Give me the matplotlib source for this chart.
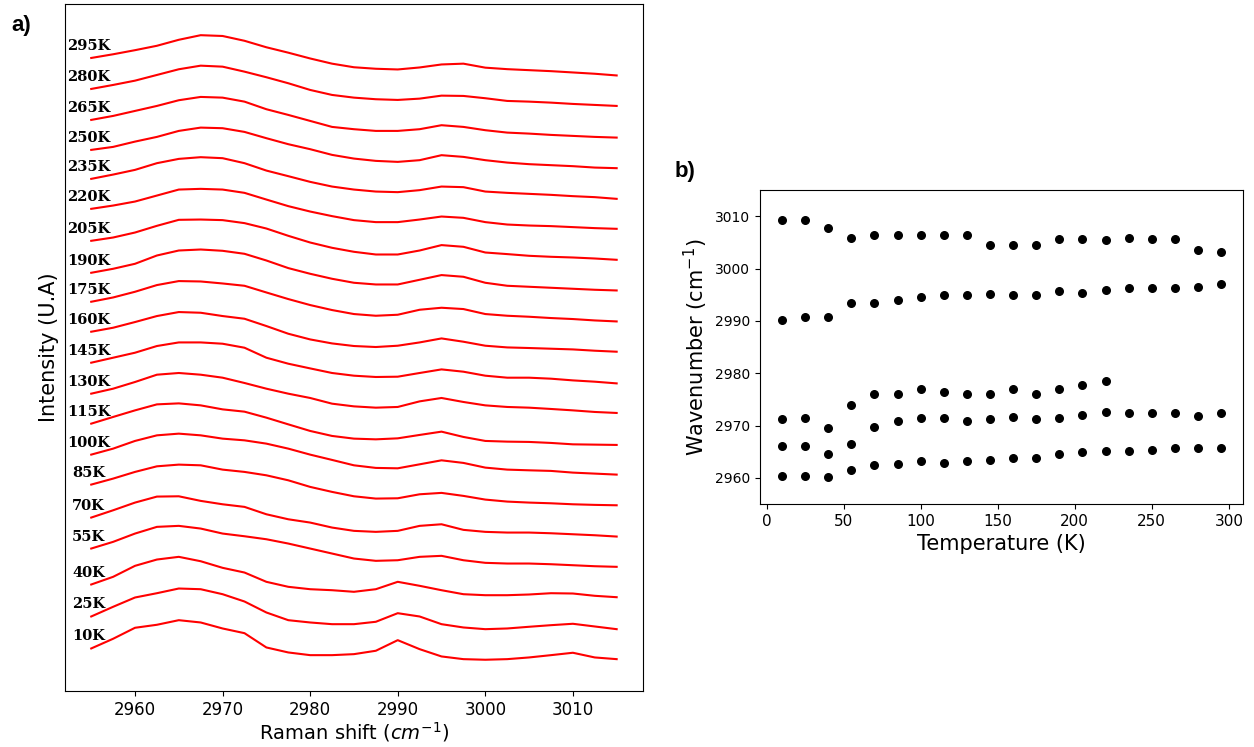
import matplotlib
matplotlib.use("Agg")
import matplotlib.pyplot as plt

# ---- panel a: stacked Raman spectra ----
shift = [2955, 2957.5, 2960, 2962.5, 2965, 2967.5, 2970, 2972.5, 2975, 2977.5,
         2980, 2982.5, 2985, 2987.5, 2990, 2992.5, 2995, 2997.5, 3000, 3002.5,
         3005, 3007.5, 3010, 3012.5, 3015]

temps_a = [10, 25, 40, 55, 70, 85, 100, 115, 130, 145,
           160, 175, 190, 205, 220, 235, 250, 265, 280, 295]

# vertical shift of each spectrum (a.u.)
offsets = [12, 44, 76, 112, 143, 176, 206, 237, 267, 298,
           329, 359, 388, 420, 452, 482, 511, 541, 572, 603]

s10 = [0, 9.7, 20.7, 23.7, 28.3, 26, 20, 15.3, 1, -4, -6.7, -6.7, -5.7, -2.3, 8.3, -0.7, -8, -10.7, -11.3, -10.7, -9, -6.7, -4.3, -9, -10.7]
s25 = [0, 9.7, 19, 23.3, 28, 27.3, 22.3, 15, 4, -3.7, -6, -7.7, -7.7, -5.3, 3.3, 0, -7.7, -11, -12.7, -12, -10.3, -8.7, -7.3, -10, -12.7]
s40 = [0, 7.7, 18.7, 25, 27.7, 23.3, 16.7, 12, 2.7, -2.3, -4.7, -5.7, -7.3, -4.7, 2.7, -1.3, -5.7, -9.7, -10.7, -10.7, -10, -8.7, -9, -11.3, -12.7]
s55 = [0, 6.7, 15, 21.7, 22.7, 20, 15, 12.3, 9.3, 5, 0, -5, -10, -12.3, -11.7, -8.3, -7.3, -11.7, -14.3, -15, -15, -15.7, -16.7, -17.7, -18.3]
s70 = [0, 7.3, 15, 21, 21.3, 16.7, 13.3, 10.7, 3.3, -1.7, -5, -10, -13.3, -14.3, -13.3, -8.3, -6.7, -12.3, -14.3, -15, -15, -15.7, -16.7, -17.7, -19]
s85 = [0, 6, 12.7, 18.3, 20, 19.3, 15, 12.7, 9.3, 4.3, -2.3, -7.3, -11.7, -14, -13.7, -9.7, -8.3, -11.3, -15, -17, -18, -18.7, -19.7, -20.3, -20.7]
s100 = [0, 6, 13.7, 19.3, 21, 19.3, 16, 14.3, 11, 6, 0, -5.3, -10.7, -13.3, -13.7, -9.7, -5.7, -8.3, -13, -15, -15.7, -16.3, -18, -19, -20]
s115 = [0, 6.7, 13.3, 19.3, 20.3, 18.3, 14.3, 12, 6, -0.7, -7.3, -12.3, -15, -15.7, -14.7, -11.3, -8, -13.3, -17.3, -18, -18.3, -19.3, -20.7, -21, -21.3]
s130 = [0, 5, 11.7, 19, 20.7, 19, 16, 10.7, 5, 0, -4.3, -10, -12.7, -14, -13.3, -7.7, -4.3, -8.3, -11.7, -13.3, -14, -15.3, -16.7, -18.3, -19.3]
s145 = [0, 5, 10, 16.7, 20.3, 20.3, 19, 15, 5, -1, -5.7, -10.3, -13, -14.3, -14, -10.3, -6.7, -9, -13, -15, -15, -16, -17.7, -19, -20.7]
s160 = [0, 4, 9.7, 15.7, 19.7, 19, 15.7, 13, 5.7, -2, -7.7, -11.7, -14.3, -15.3, -14, -10.7, -6.7, -10, -14, -15.7, -16.3, -17, -17.7, -19, -20]
s175 = [0, 4.3, 10, 16.7, 20.7, 20.3, 18.3, 16, 9.3, 2.7, -3.3, -8.3, -12.3, -14, -13, -8, -6, -7.3, -12.3, -14, -15, -16.3, -17.3, -18.7, -19.7]
s190 = [0, 4, 9, 17.3, 22.3, 23.3, 22, 19, 12.3, 4.7, -1, -6, -10, -11.7, -11.7, -7, -2.3, -4, -10, -13, -14, -15, -16, -17, -17.7]
s205 = [0, 3.3, 8.3, 15, 21, 21.3, 20.7, 17.7, 12.3, 5, -1.7, -7, -11, -13.7, -13.7, -9.7, -4.3, -6, -11.7, -13.3, -15, -16, -16.7, -17.7, -19]
s220 = [0, 3.3, 7.3, 13.3, 19.3, 20, 19.3, 16, 9.3, 2.7, -2.7, -7.3, -11.3, -13.3, -13.3, -10.7, -7.7, -9, -13.3, -15.7, -16.7, -17.3, -18.3, -19.3, -20]
s235 = [0, 4.3, 9, 15.7, 20, 21.7, 20.7, 15.7, 8.3, 2.7, -3, -7.7, -10.7, -12.7, -13.3, -11.3, -7.7, -8.3, -12.7, -14, -15, -16, -17.3, -18.3, -20]
s250 = [0, 3, 8.3, 13, 19, 22.3, 21.7, 18, 11.7, 5.7, 0.7, -5, -8.7, -11, -12, -10.3, -5.3, -7, -10.3, -12.7, -14.3, -15.3, -16.3, -17.7, -18.3]
s265 = [0, 4, 9, 14, 19.7, 23, 22.3, 18.3, 10.7, 5, -1, -7, -9.3, -11, -11, -9.3, -5.3, -7, -10.3, -12.7, -13.7, -15, -16, -17, -17.7]
s280 = [0, 4, 8.3, 14, 19.7, 23.3, 22.3, 17.3, 11.7, 5.7, -1, -6, -8.7, -10.3, -11, -9.7, -6.7, -7, -9.3, -12, -12.7, -13.7, -15, -16, -17]
s295 = [0, 3.7, 7.8, 12.2, 18.2, 22.8, 22, 17.2, 10.7, 5.3, -0.5, -5.7, -9.3, -10.8, -11.5, -9.5, -6.5, -5.7, -9.7, -11.2, -12.2, -13.2, -14.5, -15.8, -17.5]

spectra = [s10, s25, s40, s55, s70, s85, s100, s115, s130, s145,
           s160, s175, s190, s205, s220, s235, s250, s265, s280, s295]

# ---- panel b: fitted band positions vs temperature ----
temps_b = [10, 25, 40, 55, 70, 85, 100, 115, 130, 145,
           160, 175, 190, 205, 220, 235, 250, 265, 280, 295]
band1 = [3009.2, 3009.2, 3007.8, 3005.9, 3006.4, 3006.4, 3006.4, 3006.4, 3006.4, 3004.5,
         3004.5, 3004.5, 3005.6, 3005.6, 3005.4, 3005.9, 3005.6, 3005.6, 3003.6, 3003.1]
band2 = [2990.2, 2990.8, 2990.8, 2993.5, 2993.5, 2994.0, 2994.6, 2994.9, 2994.9, 2995.1,
         2994.9, 2994.9, 2995.7, 2995.4, 2995.9, 2996.3, 2996.3, 2996.3, 2996.5, 2997.1]
band3 = [2971.2, 2971.4, 2969.5, 2973.9, 2976.1, 2976.1, 2976.9, 2976.4, 2976.1, 2976.1,
         2976.9, 2976.1, 2976.9, 2977.7, 2978.6]
band4 = [2966.0, 2966.0, 2964.5, 2966.5, 2969.8, 2970.9, 2971.4, 2971.4, 2970.9, 2971.2,
         2971.7, 2971.2, 2971.4, 2972.0, 2972.5, 2972.3, 2972.3, 2972.3, 2971.8, 2972.3]
band5 = [2960.4, 2960.4, 2960.1, 2961.5, 2962.4, 2962.7, 2963.2, 2962.9, 2963.2, 2963.5,
         2963.8, 2963.8, 2964.6, 2964.9, 2965.2, 2965.2, 2965.4, 2965.7, 2965.7, 2965.7]

fig = plt.figure(figsize=(12.54, 7.47), dpi=100)

# panel a
ax1 = fig.add_axes([0.0518, 0.0750, 0.4609, 0.9197])
for T, off, s in zip(temps_a, offsets, spectra):
    ax1.plot(shift, [off + v for v in s], color='red', linewidth=1.5)
    ax1.text(2954.7, off + 8, f"{T}K", ha='center', va='baseline',
             fontsize=10.5, fontweight='bold', family='DejaVu Serif')
ax1.set_yticks([])
ax1.tick_params(axis='x', labelsize=12)
ax1.set_xlabel('Raman shift ($cm^{-1}$)', fontsize=14, labelpad=1)
ax1.set_ylabel('Intensity (U.A)', fontsize=15)

# panel b
ax2 = fig.add_axes([0.6061, 0.3253, 0.3852, 0.4203])
ax2.scatter(temps_b, band1, color='black', s=30)
ax2.scatter(temps_b, band2, color='black', s=30)
ax2.scatter(temps_b[:len(band3)], band3, color='black', s=30)
ax2.scatter(temps_b, band4, color='black', s=30)
ax2.scatter(temps_b, band5, color='black', s=30)
ax2.set_ylim(2955, 3015)
ax2.tick_params(axis='x', labelsize=11)
ax2.tick_params(axis='y', labelsize=10)
ax2.set_xlabel('Temperature (K)', fontsize=15)
ax2.set_ylabel('Wavenumber (cm$^{-1}$)', fontsize=15)

fig.text(0.017, 0.966, 'a)', fontsize=16, fontweight='bold', family='Liberation Sans',
         ha='center', va='center')
fig.text(0.546, 0.770, 'b)', fontsize=16, fontweight='bold', family='Liberation Sans',
         ha='center', va='center')

fig.savefig('out.png', dpi=100)
